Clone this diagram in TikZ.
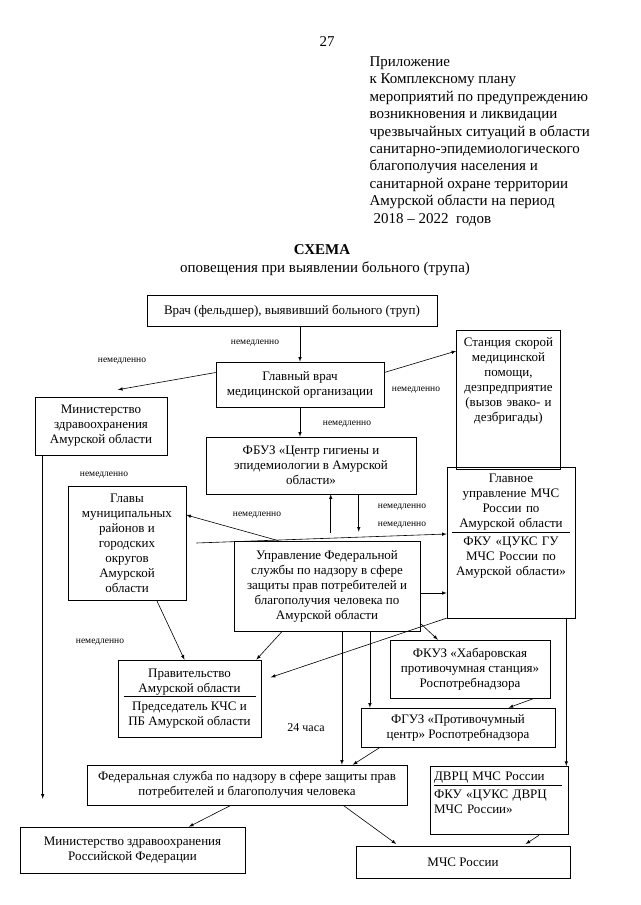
\documentclass[tikz,border=0pt]{standalone}
\usepackage{fontspec}
\setmainfont{Liberation Serif}
\usetikzlibrary{arrows, calc}

\newcommand{\boxfont}{\fontsize{13}{15}\selectfont}
\newcommand{\headfont}{\fontsize{15}{17.4}\selectfont}
\newcommand{\lblfont}{\fontsize{9.5}{10}\selectfont}
\newcommand{\divline}[1]{\\[-10pt]\rule{#1}{0.9pt}\\[-2pt]}

\tikzset{
	box/.style={draw, align=center, font=\boxfont, inner sep=3pt},
	topbox/.style={box, anchor=north, inner ysep=7pt},
	lbl/.style={font=\lblfont, inner sep=1pt},
	>=latex
}

\begin{document}
\begin{tikzpicture}[x=1pt, y=-1pt, line width=0.6pt]
	\useasboundingbox (0,0) rectangle (640,905);

	% header
	\node[font=\headfont] (page) at (327,42) {27};
	\node[font=\headfont, align=left, anchor=north west] (annex) at (366,53) {Приложение\\
		к Комплексному плану\\
		мероприятий по предупреждению\\
		возникновения и ликвидации\\
		чрезвычайных ситуаций в области\\
		санитарно-эпидемиологического\\
		благополучия населения и\\
		санитарной охране территории\\
		Амурской области на период\\
		\hspace*{4pt}2018 -- 2022 \ годов};
	\node[font=\headfont\bfseries] (title) at (322,250) {СХЕМА};
	\node[font=\headfont] (subtitle) at (325,269) {оповещения при выявлении больного (трупа)};

	% boxes
	\node[box, minimum width=290pt, minimum height=31pt] (vrach) at (292,311) {Врач (фельдшер), выявивший больного (труп)};
	\node[box, minimum width=168pt, minimum height=45pt] (glavvrach) at (300,384.5) {Главный врач\\медицинской организации};
	\node[topbox, minimum width=103pt, text width=98pt, text depth=116pt] (skoraya) at (508.5,330) {Станция скорой\\медицинской\\помощи,\\дезпредприятие\\(вызов эвако- и\\дезбригады)};
	\node[box, minimum width=132pt, minimum height=58pt] (minamur) at (101,426) {Министерство\\здравоохранения\\Амурской области};
	\node[box, minimum width=210pt, minimum height=57pt] (fbuz) at (311,465.5) {ФБУЗ «Центр гигиены и\\эпидемиологии в Амурской\\области»};
	\node[topbox, minimum width=128pt, text width=122pt, text depth=128pt] (mchs) at (511,467) {Главное\\управление МЧС\\России по\\Амурской области\divline{118pt}ФКУ «ЦУКС ГУ\\МЧС России по\\Амурской области»};
	\node[box, minimum width=118pt, minimum height=114pt] (glavy) at (127,543) {Главы\\муниципальных\\районов и\\городских\\округов\\Амурской\\области};
	\node[box, minimum width=186pt, minimum height=90pt] (upr) at (327,586) {Управление Федеральной\\службы по надзору в сфере\\защиты прав потребителей и\\благополучия человека по\\Амурской области};
	\node[box, minimum width=143pt, minimum height=77pt] (prav) at (189.5,698.5) {Правительство\\Амурской области\divline{132pt}Председатель КЧС и\\ПБ Амурской области};
	\node[box, minimum width=160pt, minimum height=58pt] (fkuz) at (470,669) {ФКУЗ «Хабаровская\\противочумная станция»\\Роспотребнадзора};
	\node[box, minimum width=194pt, minimum height=39pt] (fguz) at (458,727.5) {ФГУЗ «Противочумный\\центр» Роспотребнадзора};
	\node[box, minimum width=320pt, minimum height=40pt] (fed) at (247,785) {Федеральная служба по надзору в сфере защиты прав\\потребителей и благополучия человека};
	\node[topbox, align=left, inner ysep=6pt, minimum width=138pt, text width=130pt, text depth=47pt] (dvrc) at (499,766) {ДВРЦ МЧС России\divline{128pt}ФКУ «ЦУКС ДВРЦ\\МЧС России»};
	\node[box, minimum width=225pt, minimum height=46pt] (minrf) at (132.5,850) {Министерство здравоохранения\\Российской Федерации};
	\node[box, minimum width=214pt, minimum height=32pt] (mchsrf) at (463,862) {МЧС России};

	% labels
	\node[lbl] (n1) at (255,343) {немедленно};
	\node[lbl] (n2) at (122,361) {немедленно};
	\node[lbl] (n3) at (416,390) {немедленно};
	\node[lbl] (n4) at (347,424) {немедленно};
	\node[lbl] (n5) at (104,475) {немедленно};
	\node[lbl] (n6) at (257,515) {немедленно};
	\node[lbl] (n7) at (402,507) {немедленно};
	\node[lbl] (n8) at (402,525) {немедленно};
	\node[lbl] (n9) at (100,642) {немедленно};
	\node[font=\fontsize{12}{14}\selectfont] (h24) at (306,728) {24 часа};

	% helper points
	\coordinate (ml) at ([xshift=8pt]minamur.south west);
	\coordinate (up1) at ($(upr.north west)!0.52!(upr.north east)$);
	\coordinate (dn1) at ($(upr.north west)!0.67!(upr.north east)$);
	\coordinate (gl) at ([xshift=10pt]glavy.east);
	\coordinate (ue) at ([yshift=-7pt]upr.east);
	\coordinate (u2) at ($(upr.south west)!0.58!(upr.south east)$);
	\coordinate (u3) at ($(upr.south west)!0.73!(upr.south east)$);
	\coordinate (m1) at ($(mchs.south west)!0.93!(mchs.south east)$);

	% connectors
	\draw[->] (vrach.south -| glavvrach.north) -- (glavvrach.north);
	\draw[->] ([yshift=12pt]glavvrach.west) -- ([xshift=17pt,yshift=7pt]minamur.north);
	\draw[->] ([yshift=12pt]glavvrach.east) -- ([yshift=-21pt]skoraya.north west);
	\draw[->] (glavvrach.south) -- (glavvrach.south |- fbuz.north);
	\draw[->, shorten >=28pt] (ml) -- (ml |- minrf.north);

	\draw[->, shorten <=8pt] (up1) -- (up1 |- fbuz.south);
	\draw[->, shorten >=9pt] (dn1 |- fbuz.south) -- (dn1);
	\draw[->] (gl) -- ([yshift=-67pt]mchs.north west);
	\draw[->] ($(upr.north west)!0.24!(upr.north east)$) -- ([yshift=28pt]glavy.east);
	\draw[->] (ue) -- (ue -| mchs.west);

	\draw[->] ($(upr.south west)!0.26!(upr.south east)$) -- ([xshift=-5pt]prav.north east);
	\draw[->] ($(glavy.south west)!0.75!(glavy.south east)$) -- ([xshift=-5pt]prav.north);
	\draw[->, shorten >=10pt] (mchs.south west) -- ([yshift=18pt]prav.east);
	\draw[->] ([yshift=8pt]upr.south east) -- ($(fkuz.north west)!0.3!(fkuz.north east)$);
	\draw[->] (u3) -- (u3 |- fguz.north);
	\draw[->] (u2) -- (u2 |- fed.north);
	\draw[->] ($(fkuz.south west)!0.9!(fkuz.south east)$) -- ($(fguz.north west)!0.76!(fguz.north east)$);
	\draw[->] ($(fguz.south west)!0.1!(fguz.south east)$) -- ($(fed.north west)!0.83!(fed.north east)$);
	\draw[->] (m1) -- (m1 |- dvrc.north);

	\draw[->] ($(fed.south west)!0.45!(fed.south east)$) -- ($(minrf.north west)!0.75!(minrf.north east)$);
	\draw[->, shorten >=3pt] ($(fed.south west)!0.8!(fed.south east)$) -- ($(mchsrf.north west)!0.2!(mchsrf.north east)$);
	\draw[->, shorten <=2pt, shorten >=3pt] ($(dvrc.south west)!0.8!(dvrc.south east)$) -- ($(mchsrf.north west)!0.78!(mchsrf.north east)$);
\end{tikzpicture}
\end{document}
